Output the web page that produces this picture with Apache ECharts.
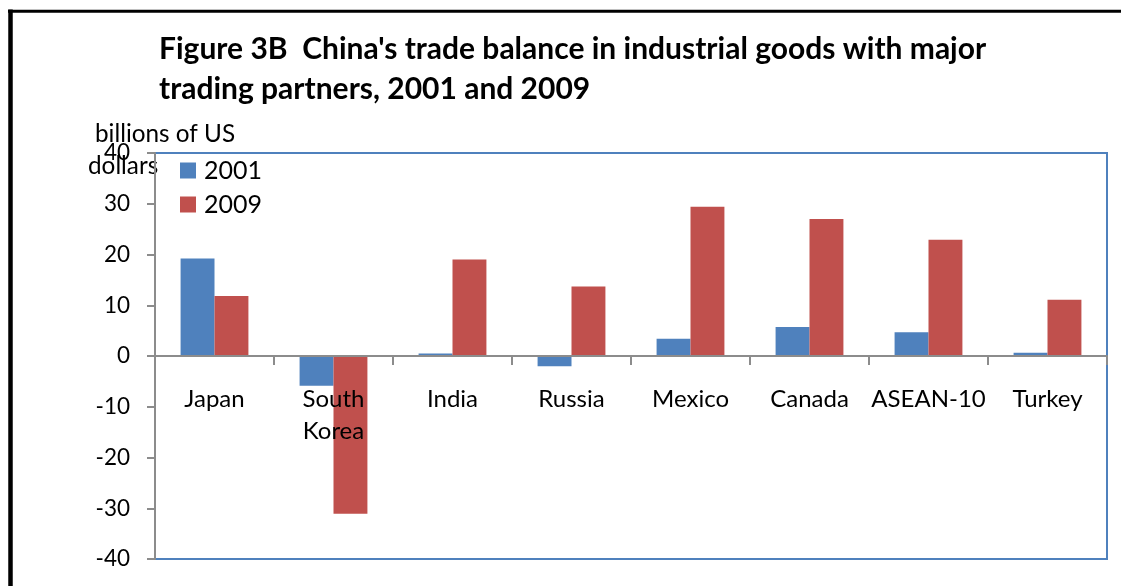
<!DOCTYPE html>
<html><head><meta charset="utf-8">
<script src="https://cdn.jsdelivr.net/npm/echarts@6/dist/echarts.min.js"></script>
<style>html,body{margin:0;padding:0;background:#fff;}#c{width:1121px;height:586px;}</style>
</head><body><div id="c"></div>
<script>
const categories = ['Japan', 'South\nKorea', 'India', 'Russia', 'Mexico', 'Canada', 'ASEAN-10', 'Turkey'];
const values2001 = [19.2, -5.85, 0.5, -2.0, 3.4, 5.7, 4.7, 0.65];
const values2009 = [11.8, -31.1, 19.0, 13.7, 29.4, 27.0, 22.9, 11.1];
const yTicks = [-40, -30, -20, -10, 0, 10, 20, 30, 40];
const yAxisNameLines = ['billions of US', 'dollars'];

const FONT = 'Lato';
const chart = echarts.init(document.getElementById('c'));
chart.setOption({
  animation: false,
  backgroundColor: '#fff',
  title: {
    text: "Figure 3B  China's trade balance in industrial goods with major\ntrading partners, 2001 and 2009",
    left: 159, top: 29, padding: 0,
    textStyle: { fontFamily: FONT, fontWeight: 'bold', fontSize: 30, lineHeight: 40, color: '#000' }
  },
  legend: {
    orient: 'vertical', left: 180, top: 158, padding: 0,
    itemWidth: 16, itemHeight: 16, itemGap: 9,
    icon: 'rect',
    textStyle: { fontFamily: FONT, fontSize: 25, color: '#000', padding: [0, 0, 0, 3] },
    data: ['2001', '2009']
  },
  grid: { left: 155, right: 14, top: 153, bottom: 27, show: true, borderColor: '#4f81bd', borderWidth: 2, containLabel: false, outerBoundsMode: 'none' },
  xAxis: {
    type: 'category', data: categories,
    offset: -203,
    z: 10,
    axisLine: { onZero: false, lineStyle: { color: '#8c8c8c', width: 2 } },
    axisTick: { show: true, alignWithLabel: false, length: 9, lineStyle: { color: '#8c8c8c', width: 2 } },
    axisLabel: { margin: 27, fontFamily: FONT, fontSize: 24, lineHeight: 32, color: '#000', interval: 0 }
  },
  yAxis: {
    type: 'value', min: yTicks[0], max: yTicks[yTicks.length - 1], interval: 10,
    axisLine: { show: true, lineStyle: { color: '#8c8c8c', width: 2 } },
    axisTick: { show: true, length: 8, lineStyle: { color: '#8c8c8c', width: 2 } },
    splitLine: { show: false },
    axisLabel: { margin: 25, fontFamily: FONT, fontSize: 22.5, color: '#000' }
  },
  graphic: [
    { type: 'line', shape: { x1: 10.5, y1: 9.5, x2: 10.5, y2: 600 }, style: { stroke: '#000', lineWidth: 4.5 }, silent: true },
    { type: 'line', shape: { x1: 8, y1: 11.3, x2: 1130, y2: 11.3 }, style: { stroke: '#000', lineWidth: 3 }, silent: true },
    { type: 'text', style: { text: yAxisNameLines[0], x: 95, y: 134.2, align: 'left', verticalAlign: 'middle', font: '24.3px Lato', fill: '#000' } },
    { type: 'text', style: { text: yAxisNameLines[1], x: 88, y: 166.2, align: 'left', verticalAlign: 'middle', font: '24.3px Lato', fill: '#000' } }
  ],
  series: [
    { name: '2001', type: 'bar', data: values2001, barGap: '0%', barCategoryGap: '43%', itemStyle: { color: '#4f81bd' } },
    { name: '2009', type: 'bar', data: values2009, itemStyle: { color: '#c0504d' } }
  ]
});
</script></body></html>
